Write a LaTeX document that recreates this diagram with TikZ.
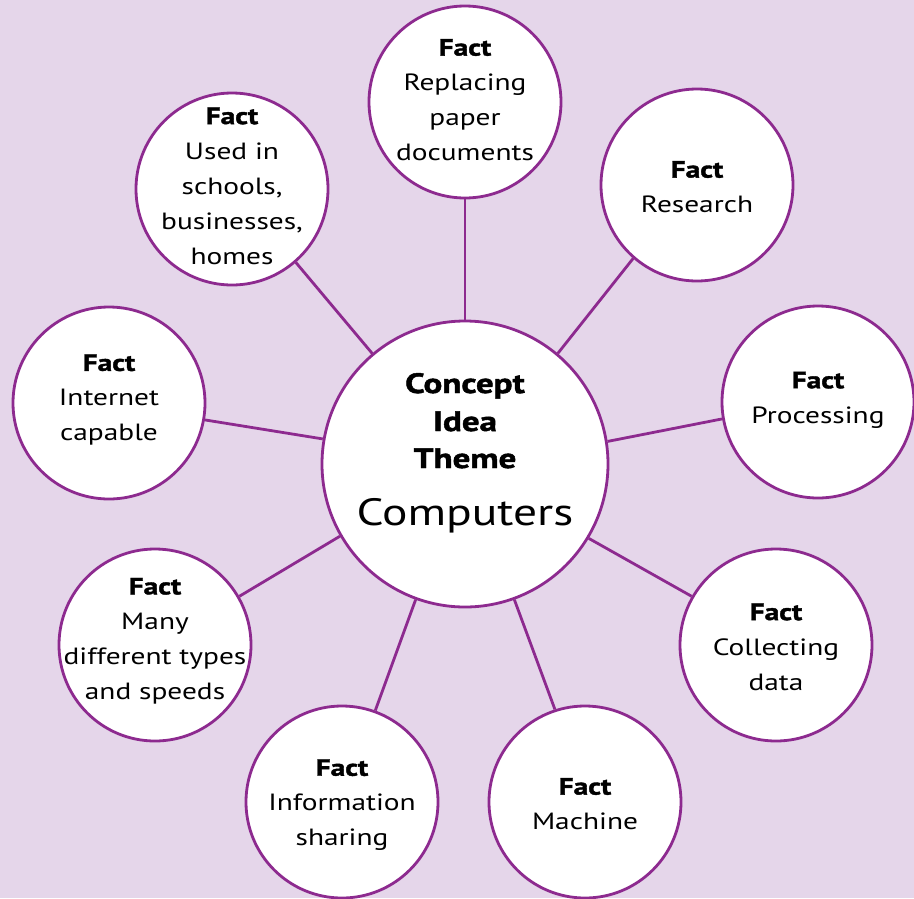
\documentclass[tikz,border=0pt]{standalone}
\usepackage{fontspec}
\setmainfont{PT Sans}[FakeStretch=1.25, BoldFeatures={FakeBold=1.6}]
\definecolor{bgc}{HTML}{E5D6EA}
\definecolor{purp}{HTML}{8D2A8F}
\tikzset{
  sat/.style={circle, draw=purp, fill=white, line width=2.8pt, minimum size=192pt, inner sep=0pt},
  hub/.style={circle, draw=purp, fill=white, line width=2.8pt, minimum size=286pt, inner sep=0pt},
  txt/.style={align=center, inner sep=0pt, font=\fontsize{23.5}{35}\selectfont},
  big/.style={inner sep=0pt, anchor=base, font=\fontsize{28}{37}\selectfont\bfseries},
  huge/.style={inner sep=0pt, anchor=base, font=\fontsize{38}{44}\selectfont},
  link/.style={draw=purp, line width=2.8pt}
}
\begin{document}
\begin{tikzpicture}[x=1pt,y=-1pt]
\fill[bgc] (0,0) rectangle (914,898);
\useasboundingbox (0,0) rectangle (914,898);

\node[hub] (c) at (465,464) {};
\node[sat] (top) at (465,102) {};
\node[sat] (ul) at (232,189) {};
\node[sat] (ur) at (697,185) {};
\node[sat] (l) at (109,403) {};
\node[sat] (r) at (818,402) {};
\node[sat] (ll) at (155,645) {};
\node[sat] (lr) at (776,645) {};
\node[sat] (bl) at (342,802) {};
\node[sat] (br) at (585,802) {};

\draw[link] (top.270) -- (c.90);
\draw[link] (ul.311) -- (c.130);
\draw[link] (ur.229) -- (c.50);
\draw[link] (l.350) -- (c.170.5);
\draw[link] (r.190) -- (c.9.5);
\draw[link] (ll.30) -- (c.210.6);
\draw[link] (lr.150) -- (c.329.4);
\draw[link] (bl.70) -- (c.250);
\draw[link] (br.108) -- (c.290);

\node[txt] (ttop) at (465,100) {\textbf{Fact}\\Replacing\\paper\\documents};
\node[txt] (tul) at (232,186) {\textbf{Fact}\\Used in\\schools,\\businesses,\\homes};
\node[txt] (tur) at (697,187) {\textbf{Fact}\\Research};
\node[txt] (tl) at (109,400) {\textbf{Fact}\\Internet\\capable};
\node[txt] (tr) at (818,400) {\textbf{Fact}\\Processing};
\node[txt] (tll) at (155,641) {\textbf{Fact}\\Many\\different types\\and speeds};
\node[txt] (tlr) at (776,647) {\textbf{Fact}\\Collecting\\data};
\node[txt] (tbl) at (342,805) {\textbf{Fact}\\Information\\sharing};
\node[txt] (tbr) at (585,804) {\textbf{Fact}\\Machine};

\node[big] (k1) at (465,393) {Concept};
\node[big] (k2) at (465,431) {Idea};
\node[big] (k3) at (465,468) {Theme};
\node[huge] (k4) at (465,525) {Computers};
\end{tikzpicture}
\end{document}
